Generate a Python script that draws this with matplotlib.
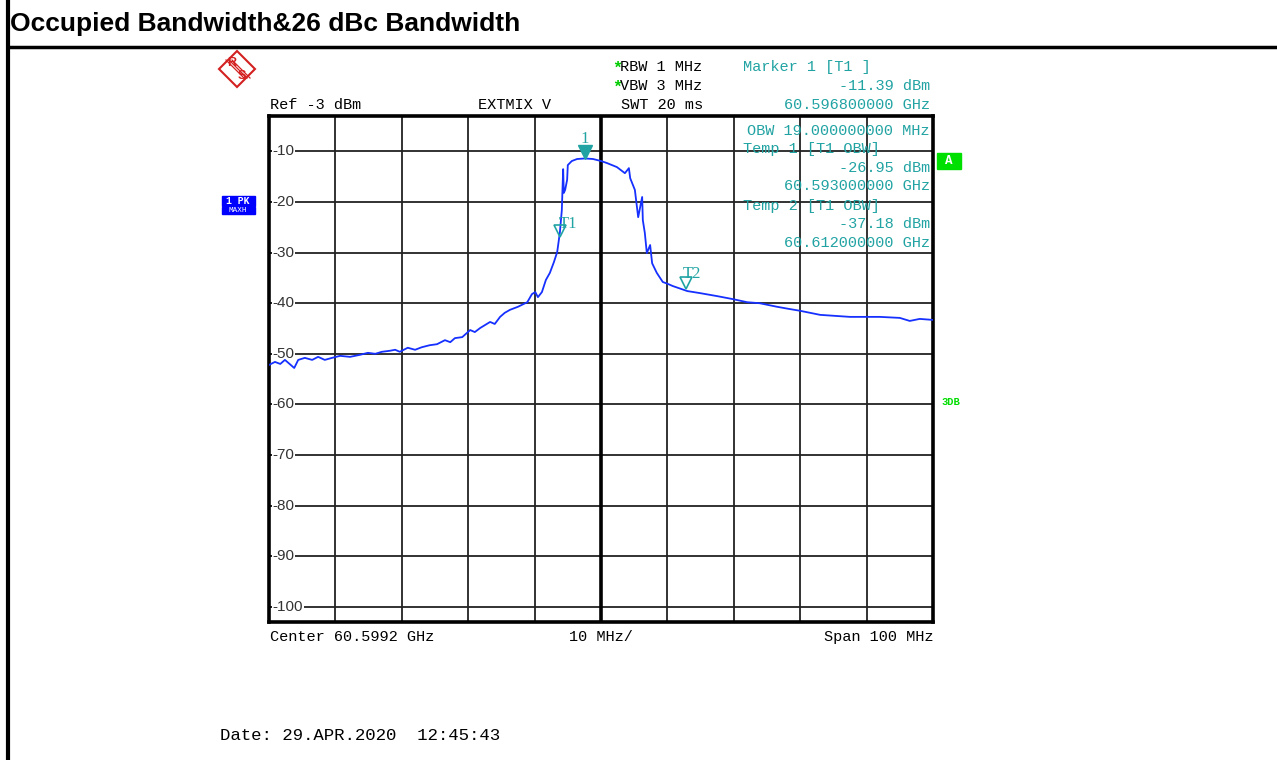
import numpy as np
import matplotlib
matplotlib.use('Agg')
import matplotlib.pyplot as plt
from matplotlib.patches import Polygon, Rectangle
from matplotlib.transforms import offset_copy

W, H = 1277, 760

# trace: offset from centre (MHz) and level (dBm)
freq_mhz = [-50.0, -49.1, -48.3, -47.6, -46.2, -45.6, -44.6, -43.5, -42.6, -41.6,
            -40.5, -39.3, -37.8, -36.3, -35.1, -34.0, -33.0, -31.8, -31.0, -30.3,
            -29.1, -28.0, -27.0, -25.8, -24.7, -23.5, -22.7, -22.0, -20.9, -19.7,
            -19.0, -18.2, -16.7, -16.0, -15.2, -14.5, -13.7, -12.5, -11.1, -10.4,
            -9.9, -9.5, -8.9, -8.3, -7.7, -7.1, -6.6, -6.2, -5.9, -5.7,
            -5.6, -5.4, -5.1, -5.0, -4.4, -3.6, -2.4, -1.2, 0.0, 0.9,
            2.4, 3.6, 4.2, 4.4, 5.1, 5.6, 6.2, 6.3, 6.6, 6.9,
            7.4, 7.7, 8.4, 9.3, 10.1, 10.8, 13.0, 14.9, 17.5, 19.9,
            22.0, 23.9, 26.5, 28.2, 30.0, 33.0, 37.5, 42.0, 45.0, 46.5,
            48.0, 50.0]
level_dbm = [-52.2, -51.6, -52.0, -51.2, -52.8, -51.2, -50.8, -51.2, -50.6, -51.2,
             -50.8, -50.4, -50.6, -50.2, -49.8, -50.0, -49.6, -49.4, -49.2, -49.6,
             -48.8, -49.2, -48.7, -48.3, -48.1, -47.3, -47.7, -46.9, -46.7, -45.3,
             -45.7, -44.9, -43.7, -44.1, -42.7, -41.9, -41.3, -40.7, -39.8, -38.2,
             -37.8, -38.8, -37.8, -35.4, -34.0, -31.9, -29.9, -26.1, -21.6, -13.5,
             -18.2, -17.6, -15.6, -12.7, -11.9, -11.5, -11.39, -11.5, -11.9, -12.3,
             -13.1, -14.3, -13.3, -15.3, -17.6, -23.0, -19.0, -23.6, -26.1, -30.1,
             -28.5, -32.1, -34.0, -35.8, -36.2, -36.6, -37.6, -38.0, -38.6, -39.2,
             -39.8, -40.0, -40.7, -41.1, -41.5, -42.3, -42.7, -42.7, -42.9, -43.5,
             -43.1, -43.3]

# markers: (offset MHz, level dBm)
m1 = (-2.4, -11.39)
t1 = (-6.2, -26.95)
t2 = (12.8, -37.18)

y_ticks = [-10, -20, -30, -40, -50, -60, -70, -80, -90, -100]
x_grid = [-40, -30, -20, -10, 0, 10, 20, 30, 40]

teal = '#22a3a3'
mono = 'Liberation Mono'

fig = plt.figure(figsize=(W / 100, H / 100), dpi=100)


def px(x, y):
    return x / W, 1 - y / H


def txt(x, y, s, **kw):
    kw.setdefault('family', mono)
    kw.setdefault('fontsize', 11)
    kw.setdefault('va', 'center')
    fig.text(*px(x, y), s, **kw)


# page frame and title
fig.add_artist(plt.Line2D([8 / W, 8 / W], [0, 1], color='black', lw=3))
fig.add_artist(plt.Line2D([8 / W, 1], [1 - 47 / H, 1 - 47 / H], color='black', lw=2.5))
txt(10, 24, 'Occupied Bandwidth&26 dBc Bandwidth', family='Liberation Sans',
    fontsize=19, weight='bold')

# plot area
ax = fig.add_axes([269 / W, 1 - 622 / H, 664 / W, 506 / H])
ax.set_xlim(-50, 50)
ax.set_ylim(-103, -3)
ax.set_xticks(x_grid)
ax.set_yticks(y_ticks)
ax.tick_params(direction='in', length=4, width=1.3, color='#222',
               labelleft=False, labelbottom=False, bottom=False)
ax.grid(color='#222', lw=1.3)
ax.axvline(0, color='black', lw=2.6)
for sp in ax.spines.values():
    sp.set_linewidth(2.6)
for v in y_ticks:
    ax.text(-49.5, v, '%d' % v, family='Liberation Sans', fontsize=11,
            color='#333', ha='left', va='center',
            bbox=dict(facecolor='white', edgecolor='none', pad=0.5))

ax.plot(freq_mhz, level_dbm, color='#1530ff', lw=1.3, zorder=5)

# marker glyphs (tip sits on the trace)
up = offset_copy(ax.transData, fig=fig, y=6, units='dots')
ax.plot(m1[0], m1[1], marker='v', ms=10, color=teal, transform=up, zorder=6)
ax.plot(t1[0], t1[1], marker='v', ms=9, mfc='none', mec=teal, mew=1.2, transform=up, zorder=6)
ax.plot(t2[0], t2[1], marker='v', ms=9, mfc='none', mec=teal, mew=1.2, transform=up, zorder=6)
ax.annotate('1', m1, xytext=(0, 19), textcoords='offset pixels', ha='center', va='center',
            family='Liberation Serif', fontsize=12, color=teal, zorder=7)
ax.annotate('T1', t1, xytext=(8, 13), textcoords='offset pixels', ha='center', va='center',
            family='Liberation Serif', fontsize=12, color=teal, zorder=7)
ax.annotate('T2', t2, xytext=(6, 15), textcoords='offset pixels', ha='center', va='center',
            family='Liberation Serif', fontsize=12, color=teal, zorder=7)

# header texts
txt(612, 68, '*', color='#00cc00', fontsize=12, weight='bold')
txt(612, 87, '*', color='#00cc00', fontsize=12, weight='bold')
txt(620, 67, 'RBW 1 MHz')
txt(620, 86, 'VBW 3 MHz')
txt(621, 105, 'SWT 20 ms')
txt(270, 105, 'Ref -3 dBm')
txt(478, 105, 'EXTMIX V')
txt(743, 67, 'Marker 1 [T1 ]', color=teal)
txt(930, 86, '%.2f dBm' % m1[1], color=teal, ha='right')
txt(930, 105, '60.596800000 GHz', color=teal, ha='right')
txt(930, 131, 'OBW 19.000000000 MHz', color=teal, ha='right')
txt(743, 149, 'Temp 1 [T1 OBW]', color=teal)
txt(930, 168, '%.2f dBm' % t1[1], color=teal, ha='right')
txt(930, 186, '60.593000000 GHz', color=teal, ha='right')
txt(743, 206, 'Temp 2 [T1 OBW]', color=teal)
txt(930, 224, '%.2f dBm' % t2[1], color=teal, ha='right')
txt(930, 243, '60.612000000 GHz', color=teal, ha='right')

# side labels
fig.add_artist(Rectangle(px(937, 169), 24 / W, 16 / H, color='#00e000'))
txt(949, 161, 'A', color='white', ha='center', fontsize=9, weight='bold')
fig.add_artist(Rectangle(px(222, 206), 33 / W, 10 / H, color='#0000ff'))
fig.add_artist(Rectangle(px(222, 214), 33 / W, 7 / H, color='#0000ff'))
txt(238, 201, '1 PK', color='white', ha='center', fontsize=7, weight='bold')
txt(238, 210, 'MAXH', color='white', ha='center', fontsize=5.5)
txt(951, 402, '3DB', color='#00dd00', ha='center', fontsize=7.5, weight='bold')

# R&S logo
logo = Polygon([px(237, 51), px(255, 69), px(237, 87), px(219, 69)], closed=True,
               fill=False, edgecolor='#d42020', lw=1.5)
fig.add_artist(logo)
for d in (-2, 1, 4):
    fig.add_artist(plt.Line2D([(228 + d) / W, (246 + d) / W],
                              [1 - 60 / H, 1 - 78 / H], color='#d42020', lw=0.9))
txt(232, 63, 'R', color='#d42020', fontsize=9, weight='bold', ha='center', family='Liberation Sans')
txt(242, 76, 'S', color='#d42020', fontsize=9, weight='bold', ha='center', family='Liberation Sans')

# footer
txt(270, 637, 'Center 60.5992 GHz')
txt(601, 637, '10 MHz/', ha='center')
txt(933, 637, 'Span 100 MHz', ha='right')
txt(220, 736, 'Date: 29.APR.2020  12:45:43', fontsize=12.5)

fig.savefig('out.png', dpi=100)
